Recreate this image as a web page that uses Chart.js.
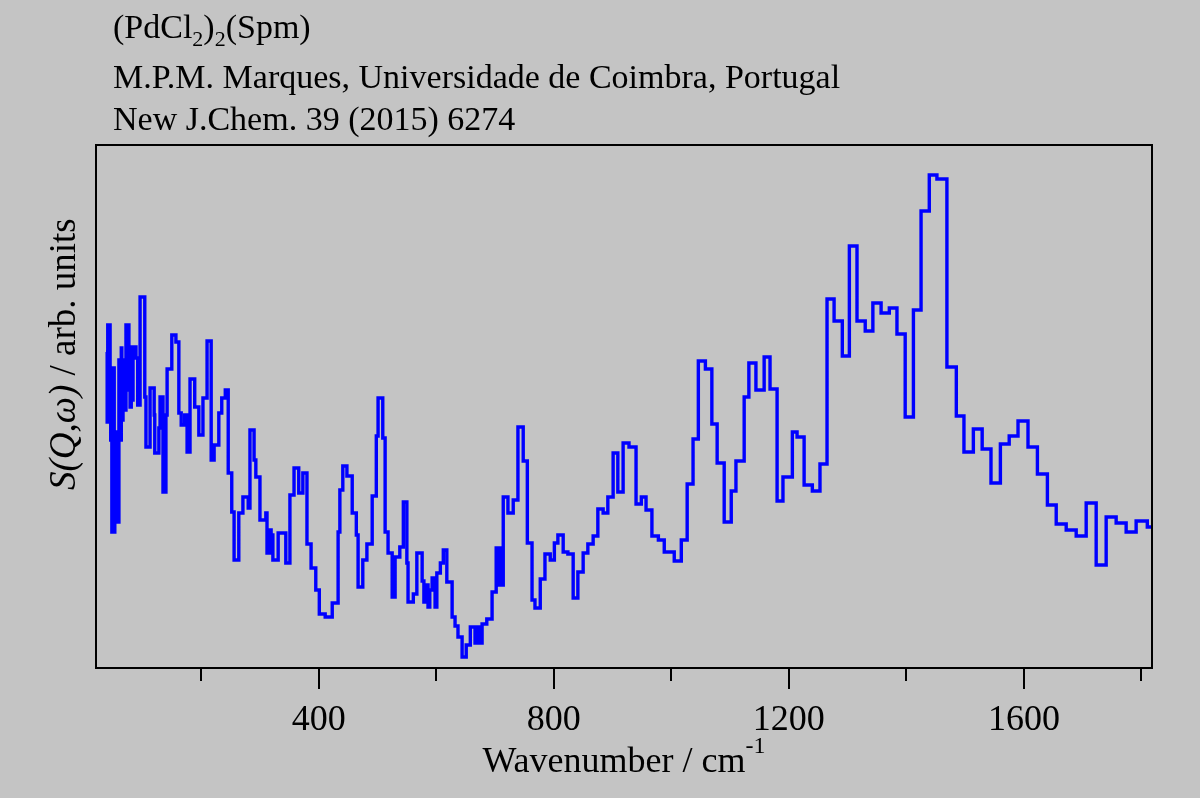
<!DOCTYPE html>
<html>
<head>
<meta charset="utf-8">
<script src="https://cdn.jsdelivr.net/npm/chart.js@4.4.0/dist/chart.umd.min.js"></script>
<style>
html,body{margin:0;padding:0;background:#c4c4c4;}
#wrap{width:1200px;height:798px;position:relative;}
canvas{display:block;}
</style>
</head>
<body>
<div id="wrap"><canvas id="c" width="1200" height="798"></canvas></div>
<script>
// ---- data ----
const wavenumber = [
  38,40,41,45,46,48,50,52,53,55,
  57,58,60,62,64,65,67,69,72,74,
  75,77,79,81,82,84,89,92,96,104,
  106,113,120,121,128,130,135,140,142,150,
  157,162,166,172,176,181,189,196,203,210,
  217,222,230,235,241,246,252,256,264,271,
  280,283,290,293,300,310,312,317,319,321,
  322,331,344,351,358,366,373,380,387,395,
  401,411,423,433,436,441,448,457,464,467,
  475,482,491,498,501,509,513,518,525,530,
  538,544,550,552,561,567,576,579,583,586,
  589,593,598,601,607,612,618,627,632,637,
  644,651,658,666,669,673,678,686,695,702,
  705,707,710,714,722,731,739,748,755,763,
  768,777,785,794,801,807,816,824,833,841,
  850,858,867,875,884,892,901,909,918,928,
  940,949,957,967,978,988,1005,1017,1027,1037,
  1046,1058,1069,1078,1090,1102,1110,1124,1132,1144,
  1158,1168,1180,1190,1206,1214,1226,1240,1253,1265,
  1277,1291,1303,1316,1330,1343,1357,1371,1384,1398,
  1412,1425,1439,1452,1469,1485,1498,1514,1529,1544,
  1560,1575,1590,1607,1623,1640,1655,1672,1689,1706,
  1723,1740,1757,1774,1791,1810,1818
];
const intensity = [
  316,246,343,248,228,136,300,136,218,146,
  236,146,308,228,320,248,308,258,343,278,
  343,320,261,321,268,321,310,263,371,271,
  221,280,253,215,240,271,176,253,299,333,
  326,255,243,253,216,289,261,233,270,327,
  208,223,255,270,278,195,156,108,155,171,
  160,238,208,191,148,155,115,138,115,133,
  108,135,105,173,200,175,195,124,100,78,
  54,51,65,136,178,202,192,155,133,81,
  108,124,172,232,270,230,136,115,71,111,
  121,166,105,66,74,115,87,66,83,61,
  78,90,61,95,105,118,86,51,42,31,
  11,23,41,25,41,25,44,49,76,120,
  83,120,83,171,155,168,241,207,125,68,
  60,89,114,108,125,133,116,114,70,96,
  115,124,132,159,155,171,215,176,225,221,
  164,171,158,132,128,116,107,128,184,229,
  307,299,244,205,146,177,207,271,305,278,
  311,279,167,191,236,231,183,177,204,369,
  347,312,422,347,337,365,355,360,334,251,
  358,457,493,489,301,252,216,239,219,185,
  224,232,247,221,194,163,144,138,132,165,
  103,151,145,136,147,141,141
];
const xMajorTicks = [400, 800, 1200, 1600];
const xMinorTicks = [200, 600, 1000, 1400, 1800];
const xRange = [21, 1818];
const yRange = [0, 523];
const titleLine2 = "M.P.M. Marques, Universidade de Coimbra, Portugal";
const titleLine3 = "New J.Chem. 39 (2015) 6274";

const SERIF = '"Liberation Serif", "Times New Roman", serif';

function drawRuns(ctx, x, y, runs) {
  let cx = x;
  runs.forEach(r => {
    ctx.font = r.font;
    ctx.fillText(r.t, cx, y + (r.dy || 0));
    cx += ctx.measureText(r.t).width;
  });
  return cx;
}

const decor = {
  id: 'decor',
  beforeDraw(chart) {
    const ctx = chart.ctx;
    ctx.save();
    ctx.fillStyle = '#c4c4c4';
    ctx.fillRect(0, 0, chart.width, chart.height);
    ctx.restore();
  },
  afterDraw(chart) {
    const ctx = chart.ctx, a = chart.chartArea, xs = chart.scales.x;
    ctx.save();
    // frame
    ctx.strokeStyle = '#000';
    ctx.lineWidth = 2;
    ctx.strokeRect(a.left, a.top, a.right - a.left, a.bottom - a.top);
    // ticks
    ctx.beginPath();
    xMajorTicks.forEach(v => {
      const px = Math.round(xs.getPixelForValue(v));
      ctx.moveTo(px, a.bottom); ctx.lineTo(px, a.bottom + 21);
    });
    xMinorTicks.forEach(v => {
      const px = Math.round(xs.getPixelForValue(v));
      ctx.moveTo(px, a.bottom); ctx.lineTo(px, a.bottom + 13);
    });
    ctx.stroke();
    // tick labels
    ctx.fillStyle = '#000';
    ctx.textBaseline = 'alphabetic';
    ctx.textAlign = 'center';
    ctx.font = '36px ' + SERIF;
    xMajorTicks.forEach(v => ctx.fillText(String(v), xs.getPixelForValue(v), a.bottom + 62));
    // x axis title
    ctx.textAlign = 'left';
    const big = '36px ' + SERIF, sup = '24px ' + SERIF;
    ctx.font = big;
    const w1 = ctx.measureText('Wavenumber / cm').width;
    ctx.font = sup;
    const w2 = ctx.measureText('-1').width;
    const xt = (a.left + a.right) / 2 - (w1 + w2) / 2;
    drawRuns(ctx, xt, 772, [
      {t: 'Wavenumber / cm', font: big},
      {t: '-1', font: sup, dy: -19}
    ]);
    // y axis title (rotated)
    ctx.save();
    ctx.translate(75, 490);
    ctx.rotate(-Math.PI / 2);
    drawRuns(ctx, 0, 0, [
      {t: 'S(Q,\u03C9)', font: 'italic 37px ' + SERIF},
      {t: ' / arb. units', font: '37px ' + SERIF}
    ]);
    ctx.restore();
    // titles
    const tf = '34px ' + SERIF, sf = '22px ' + SERIF;
    drawRuns(ctx, 113, 38, [
      {t: '(PdCl', font: tf},
      {t: '2', font: sf, dy: 8},
      {t: ')', font: tf},
      {t: '2', font: sf, dy: 8},
      {t: '(Spm)', font: tf}
    ]);
    ctx.font = tf;
    ctx.fillText(titleLine2, 113, 88);
    ctx.fillText(titleLine3, 113, 130);
    ctx.restore();
  }
};

const points = wavenumber.map((w, i) => ({x: w, y: intensity[i]}));

new Chart(document.getElementById('c'), {
  type: 'line',
  data: {
    datasets: [{
      data: points,
      stepped: true,
      borderColor: '#0000ff',
      borderWidth: 3.4,
      pointRadius: 0,
      fill: false,
      tension: 0
    }]
  },
  options: {
    responsive: false,
    devicePixelRatio: 1,
    animation: false,
    layout: {padding: {left: 96, right: 48, top: 145, bottom: 130}},
    plugins: {legend: {display: false}, tooltip: {enabled: false}, title: {display: false}},
    scales: {
      x: {type: 'linear', min: xRange[0], max: xRange[1], display: false},
      y: {type: 'linear', min: yRange[0], max: yRange[1], display: false}
    }
  },
  plugins: [decor]
});
</script>
</body>
</html>
